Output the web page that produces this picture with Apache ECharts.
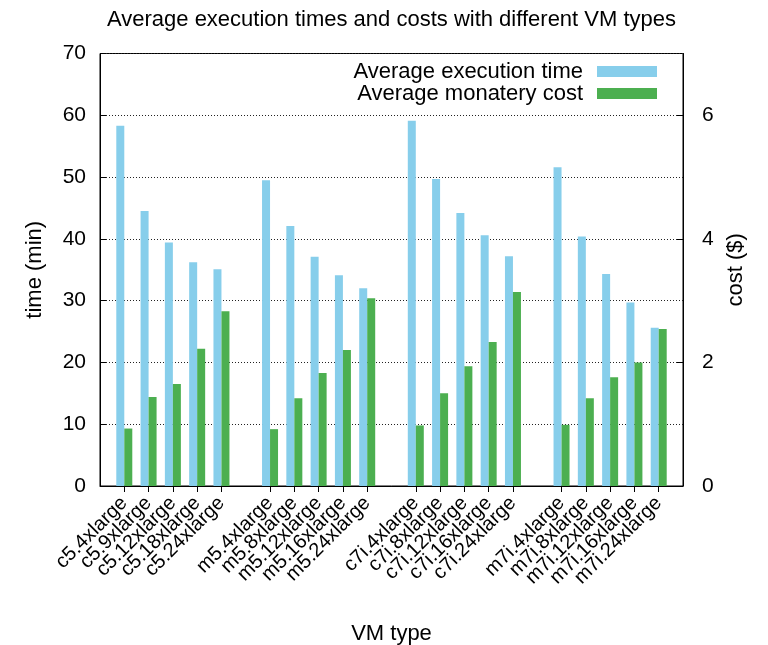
<!DOCTYPE html>
<html>
<head>
<meta charset="utf-8">
<script src="https://cdn.jsdelivr.net/npm/echarts@6/dist/echarts.min.js"></script>
<style>
  html, body { margin: 0; padding: 0; background: #fff; }
  #chart { width: 768px; height: 645px; }
</style>
</head>
<body>
<div id="chart"></div>
<script>
// VM types, with blank slots separating the four families
const categories = [
  '',
  'c5.4xlarge', 'c5.9xlarge', 'c5.12xlarge', 'c5.18xlarge', 'c5.24xlarge',
  ' ',
  'm5.4xlarge', 'm5.8xlarge', 'm5.12xlarge', 'm5.16xlarge', 'm5.24xlarge',
  '  ',
  'c7i.4xlarge', 'c7i.8xlarge', 'c7i.12xlarge', 'c7i.16xlarge', 'c7i.24xlarge',
  '   ',
  'm7i.4xlarge', 'm7i.8xlarge', 'm7i.12xlarge', 'm7i.16xlarge', 'm7i.24xlarge',
  '    '
];

// Average execution time (min)
const execTime = [
  null,
  58.3, 44.5, 39.4, 36.2, 35.1,
  null,
  49.5, 42.1, 37.1, 34.1, 32.0,
  null,
  59.1, 49.7, 44.2, 40.6, 37.2,
  null,
  51.6, 40.4, 34.3, 29.7, 25.6,
  null
];

// Average monetary cost ($)
const cost = [
  null,
  0.93, 1.44, 1.65, 2.22, 2.83,
  null,
  0.92, 1.42, 1.83, 2.20, 3.04,
  null,
  0.98, 1.50, 1.94, 2.33, 3.14,
  null,
  0.99, 1.42, 1.76, 2.00, 2.54,
  null
];

const timeTicks = { min: 0, max: 70, interval: 10 };
const costTicks = { min: 0, max: 7, interval: 2 };

const FONT = '"Liberation Sans", Arial, Helvetica, sans-serif';
const isReal = (name) => name.trim() !== '';

const chart = echarts.init(document.getElementById('chart'), null, { renderer: 'canvas' });

chart.setOption({
  animation: false,
  backgroundColor: '#fff',
  textStyle: { fontFamily: FONT, color: '#000' },
  title: {
    text: 'Average execution times and costs with different VM types',
    left: 391.5,
    textAlign: 'center',
    top: 9,
    padding: 0,
    textStyle: { fontFamily: FONT, fontSize: 22, fontWeight: 'normal', color: '#000' }
  },
  legend: {
    orient: 'vertical',
    right: 111,
    top: 60.5,
    padding: 0,
    align: 'right',
    itemWidth: 60,
    itemHeight: 11,
    itemGap: 0,
    icon: 'rect',
    selectedMode: false,
    textStyle: { fontFamily: FONT, fontSize: 22, color: '#000', padding: [0, 9, 0, 0] },
    data: ['Average execution time', 'Average monatery cost']
  },
  grid: {
    left: 100,
    right: 85,
    top: 53.5,
    bottom: 159,
    show: true,
    borderColor: '#000',
    borderWidth: 1,
    containLabel: false,
    outerBoundsMode: 'none'
  },
  xAxis: [
    {
      type: 'category',
      data: categories,
      boundaryGap: false,
      position: 'bottom',
      name: 'VM type',
      nameLocation: 'middle',
      nameGap: 137,
      nameTextStyle: { fontFamily: FONT, fontSize: 22, color: '#000' },
      axisLine: { lineStyle: { color: '#000', width: 1 } },
      axisTick: { show: false },
      axisLabel: {
        rotate: 45,
        interval: 0,
        margin: 14,
        fontFamily: FONT,
        fontSize: 20,
        color: '#000'
      },
      splitLine: { show: false }
    },
    {
      type: 'category',
      data: categories,
      boundaryGap: false,
      position: 'top',
      axisLine: { show: false },
      axisLabel: { show: false },
      axisTick: {
        show: true,
        inside: true,
        length: 6,
        interval: (idx, name) => isReal(name),
        lineStyle: { color: '#000', width: 1 }
      },
      splitLine: { show: false }
    }
  ],
  yAxis: [
    {
      type: 'value',
      min: timeTicks.min,
      max: timeTicks.max,
      interval: timeTicks.interval,
      position: 'left',
      name: 'time (min)',
      nameLocation: 'middle',
      nameGap: 54,
      nameRotate: 90,
      nameTextStyle: { fontFamily: FONT, fontSize: 22, color: '#000' },
      axisLine: { show: true, lineStyle: { color: '#000', width: 1 } },
      axisTick: { show: true, inside: true, length: 6, lineStyle: { color: '#000' } },
      axisLabel: { margin: 14, fontFamily: FONT, fontSize: 21, color: '#000' },
      splitLine: { show: true, lineStyle: { color: '#222', width: 1, type: [1, 2] } }
    },
    {
      type: 'value',
      min: costTicks.min,
      max: costTicks.max,
      interval: costTicks.interval,
      position: 'right',
      name: 'cost ($)',
      nameLocation: 'middle',
      nameGap: 40,
      nameRotate: 90,
      nameTextStyle: { fontFamily: FONT, fontSize: 22, color: '#000' },
      axisLine: { show: true, lineStyle: { color: '#000', width: 1 } },
      axisTick: { show: true, inside: true, length: 6, lineStyle: { color: '#000' } },
      axisLabel: { margin: 19, showMaxLabel: false, fontFamily: FONT, fontSize: 21, color: '#000' },
      splitLine: { show: false }
    }
  ],
  series: [
    {
      name: 'Average execution time',
      type: 'bar',
      xAxisIndex: 0,
      yAxisIndex: 0,
      data: execTime,
      barWidth: 8,
      barGap: '0%',
      itemStyle: { color: '#87CEEB' }
    },
    {
      name: 'Average monatery cost',
      type: 'bar',
      xAxisIndex: 0,
      yAxisIndex: 1,
      data: cost,
      barWidth: 8,
      barGap: '0%',
      itemStyle: { color: '#4CAF50' }
    }
  ]
});
</script>
</body>
</html>
